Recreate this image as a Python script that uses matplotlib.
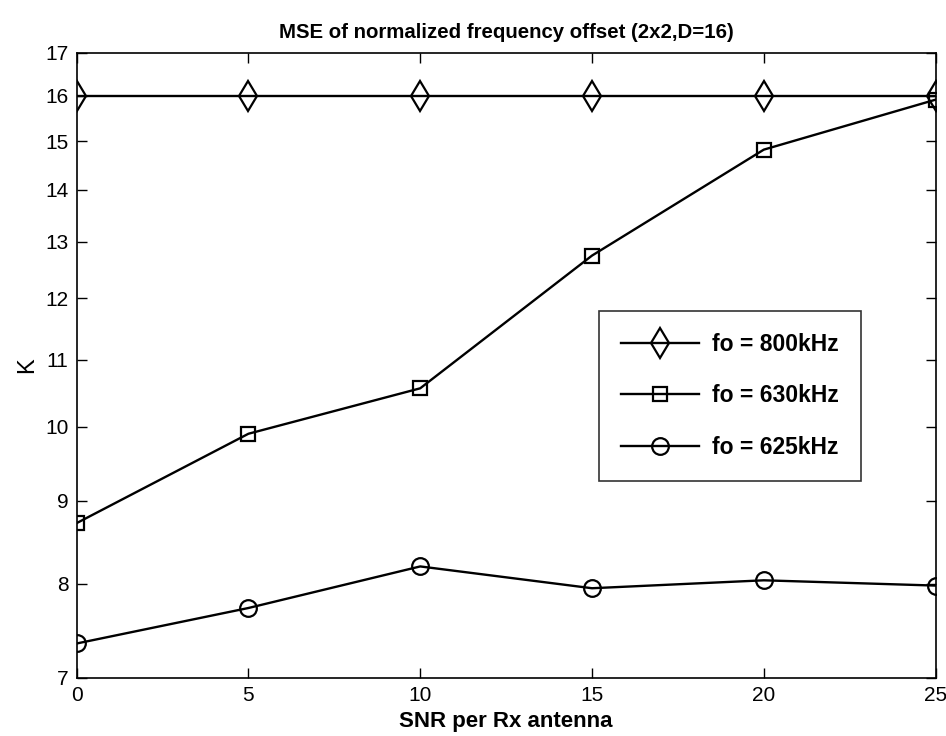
import matplotlib
matplotlib.use("Agg")
import matplotlib.pyplot as plt
from matplotlib.ticker import FixedLocator, NullLocator, FixedFormatter

plt.rcParams['font.family'] = ['Liberation Sans', 'DejaVu Sans']

snr = [0, 5, 10, 15, 20, 25]
k_800 = [16.0, 16.0, 16.0, 16.0, 16.0, 16.0]
k_630 = [8.72, 9.90, 10.56, 12.75, 14.82, 15.91]
k_625 = [7.35, 7.73, 8.20, 7.95, 8.04, 7.98]
labels = ['fo = 800kHz', 'fo = 630kHz', 'fo = 625kHz']
yticks = [7, 8, 9, 10, 11, 12, 13, 14, 15, 16, 17]
xticks = [0, 5, 10, 15, 20, 25]

fig = plt.figure(figsize=(9.46, 7.36), dpi=100)
ax = fig.add_axes([0.081, 0.079, 0.908, 0.849])

style = dict(color='black', lw=1.7, mfc='none', mec='black', mew=1.6)
ax.plot(snr, k_800, marker='d', ms=15, label=labels[0], **style)
ax.plot(snr, k_630, marker='s', ms=10.5, label=labels[1], **style)
ax.plot(snr, k_625, marker='o', ms=12, label=labels[2], **style)

ax.set_yscale('log')
ax.set_ylim(7, 17)
ax.set_xlim(0, 25)
ax.yaxis.set_major_locator(FixedLocator(yticks))
ax.yaxis.set_major_formatter(FixedFormatter([str(v) for v in yticks]))
ax.yaxis.set_minor_locator(NullLocator())
ax.set_xticks(xticks)

ax.tick_params(direction='in', length=7, width=1, top=True, right=True,
               labelsize=15, pad=6)
for s in ax.spines.values():
    s.set_linewidth(1.2)

ax.set_title('MSE of normalized frequency offset (2x2,D=16)', fontsize=14.7,
             fontweight='bold', pad=11)
ax.set_xlabel('SNR per Rx antenna', fontsize=16, fontweight='bold', labelpad=4)
ax.set_ylabel('K', fontsize=17, labelpad=5)

leg = ax.legend(loc='upper left', bbox_to_anchor=(0.608, 0.587), frameon=True,
                fancybox=False, edgecolor='#333333', framealpha=1,
                prop={'weight': 'bold', 'size': 16.5},
                handlelength=3.4, labelspacing=1.25, borderpad=0.95, handletextpad=0.6,
                borderaxespad=0)
leg.get_frame().set_linewidth(1.2)

fig.savefig('out.png', dpi=100)
